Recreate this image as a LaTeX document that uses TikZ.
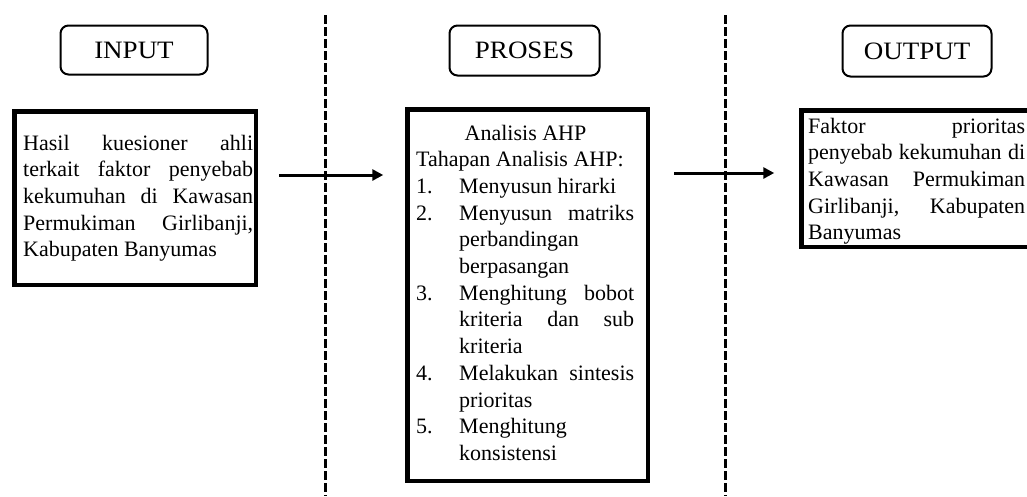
\documentclass[tikz,border=0pt]{standalone}
\usepackage{fontspec}
\setmainfont{Liberation Serif}
\newfontfamily\titlefont[FakeStretch=1.08]{Liberation Serif}
\usetikzlibrary{arrows.meta}
\newcommand{\jl}[2]{\makebox[#1][s]{#2}}
\newcommand{\num}[1]{\makebox[43pt][l]{#1}}
\begin{document}
\begin{tikzpicture}[x=1pt,y=-1pt,
  titlebox/.style={draw, line width=2pt, rounded corners=8pt, inner sep=0pt,
    font=\titlefont\fontsize{25}{28}\selectfont},
  mainbox/.style={draw, line width=4.5pt, inner sep=0pt, anchor=north west},
  bodytext/.style={inner sep=0pt, align=left, font=\fontsize{22}{26.7}\selectfont},
  sep/.style={line width=3pt, dash pattern=on 8.5pt off 3.5pt},
  arr/.style={line width=3pt, -{Triangle[length=11pt,width=11pt]}}
]
\useasboundingbox (0,0) rectangle (1027,496);

% separators
\coordinate (s1t) at (325,15);
\coordinate (s1b) at (325,496);
\coordinate (s2t) at (725,15);
\coordinate (s2b) at (725,496);
\draw[sep] (s1t) -- (s1b);
\draw[sep] (s2t) -- (s2b);

% titles
\node[titlebox, minimum width=147pt, minimum height=49pt] (tin) at (134,50) {INPUT};
\node[titlebox, minimum width=150pt, minimum height=50pt] (tpro) at (524.5,50.5) {PROSES};
\node[titlebox, minimum width=149pt, minimum height=51pt] (tout) at (917,51) {OUTPUT};

% boxes
\node[mainbox, minimum width=241.5pt, minimum height=173.5pt] (inbox) at (12.25,109.25) {};
\node[mainbox, minimum width=240.5pt, minimum height=371.5pt] (probox) at (405.25,107.25) {};
\node[mainbox, minimum width=240pt, minimum height=136.5pt] (outbox) at (799.25,108.25) {};

% input text (base anchor = baseline of last line)
\node[bodytext, anchor=base west] (intext) at (23,256.8) {%
\jl{230pt}{Hasil kuesioner ahli}\\
\jl{230pt}{terkait faktor penyebab}\\
\jl{230pt}{kekumuhan di Kawasan}\\
\jl{230pt}{Permukiman Girlibanji,}\\
Kabupaten Banyumas};

% process text
\node[bodytext, anchor=base] (prohead) at (525.5,140) {Analisis AHP};
\node[bodytext, anchor=base west] (protext) at (416,460.4) {%
Tahapan Analisis AHP:\\
\num{1.}Menyusun hirarki\\
\num{2.}\jl{175pt}{Menyusun matriks}\\
\num{}perbandingan\\
\num{}berpasangan\\
\num{3.}\jl{175pt}{Menghitung bobot}\\
\num{}\jl{175pt}{kriteria dan sub}\\
\num{}kriteria\\
\num{4.}\jl{175pt}{Melakukan sintesis}\\
\num{}prioritas\\
\num{5.}Menghitung\\
\num{}konsistensi};

% output text
\node[bodytext, anchor=base west] (outtext) at (808,239.8) {%
\jl{217pt}{Faktor prioritas}\\
\jl{217pt}{penyebab kekumuhan di}\\
\jl{217pt}{Kawasan Permukiman}\\
\jl{217pt}{Girlibanji, Kabupaten}\\
Banyumas};

% arrows
\coordinate (a1) at (0,175);
\coordinate (a2) at (0,173);
\draw[arr, shorten <=21pt, shorten >=22pt] (inbox.east |- a1) -- (probox.west |- a1);
\draw[arr, shorten <=24pt, shorten >=25pt] (probox.east |- a2) -- (outbox.west |- a2);
\end{tikzpicture}
\end{document}
